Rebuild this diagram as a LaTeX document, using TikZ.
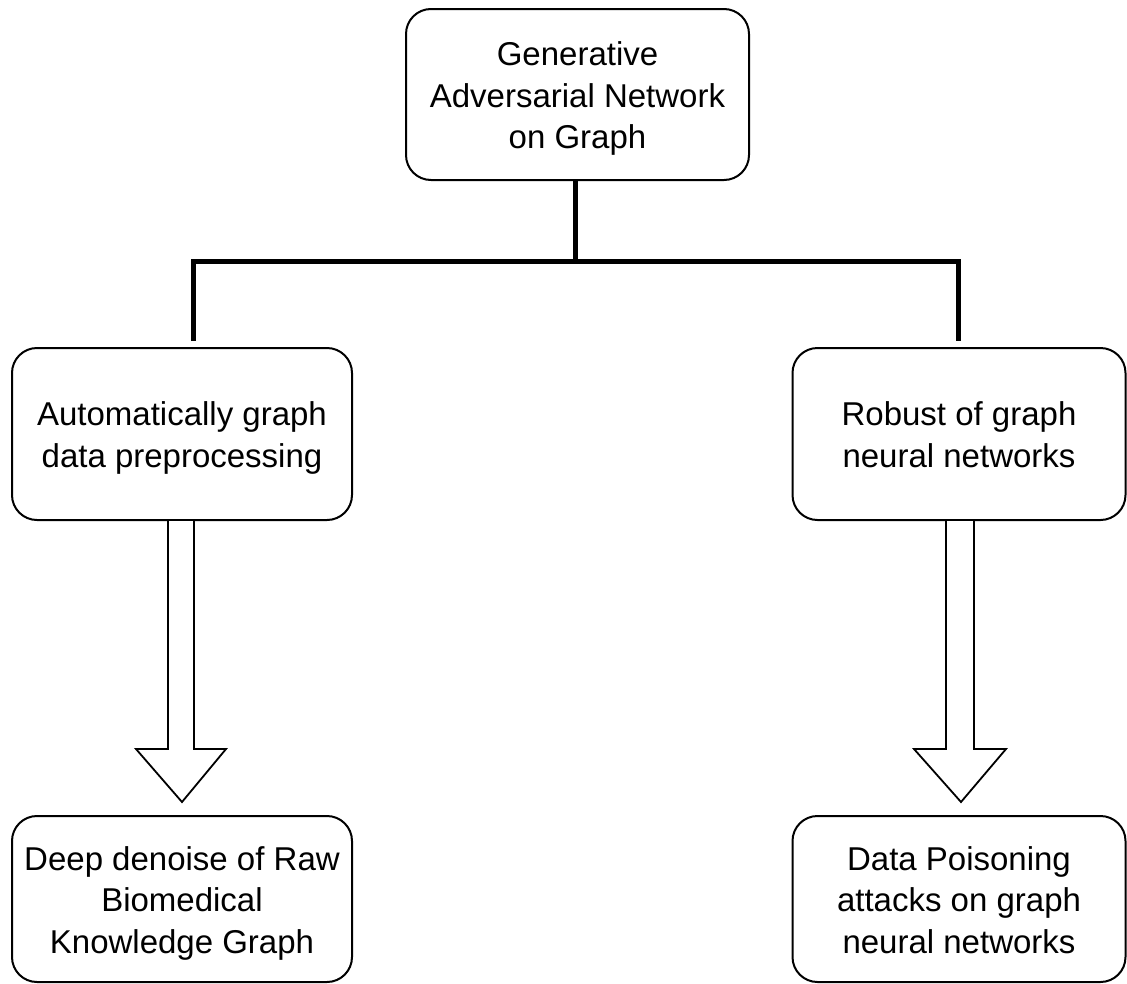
\documentclass[tikz,border=0pt]{standalone}
\usepackage{fontspec}
\setmainfont{Liberation Sans}
\usetikzlibrary{calc}
% fixed top and bottom struts so every label sits at the same spot in its box
\newcommand{\topstrut}{\rule{0pt}{35pt}}
\newcommand{\botstrut}{\rule[-10pt]{0pt}{10pt}}
\begin{document}
\begin{tikzpicture}[x=1pt,y=-1pt,
  box/.style={draw=black,line width=2pt,rounded corners=25pt,fill=white,
    align=center,inner sep=4pt,font=\fontsize{33}{41.5}\selectfont},
  conn/.style={draw=black,line width=5pt,line join=miter},
  blockarrow/.style={draw=black,line width=1.8pt,fill=white,line join=miter}]
\useasboundingbox (0,0) rectangle (1127,983);

% boxes
\node[box,minimum width=343pt,minimum height=171pt] (gan) at (577.5,94.5)
  {\topstrut Generative\\Adversarial Network\\on Graph\botstrut};
\node[box,minimum width=340pt,minimum height=172pt] (auto) at (182,434)
  {\topstrut Automatically graph\\data preprocessing\botstrut};
\node[box,minimum width=333pt,minimum height=172pt] (robust) at (959,434)
  {\topstrut Robust of graph\\neural networks\botstrut};
\node[box,minimum width=340pt,minimum height=166pt] (denoise) at (182,899)
  {\topstrut Deep denoise of Raw\\Biomedical\\Knowledge Graph\botstrut};
\node[box,minimum width=333pt,minimum height=166pt] (poison) at (959,899)
  {\topstrut Data Poisoning\\attacks on graph\\neural networks\botstrut};

% tree connectors
\coordinate (bus) at (575,261);
\coordinate (lj) at ($(auto.north)+(11,-6)$);
\coordinate (rj) at ($(robust.north)+(-1,-6)$);
\draw[conn] (gan.south -| bus) -- (bus);
\draw[conn] (lj) |- (bus) -| (rj);

% hollow block arrows
\draw[blockarrow] ($(auto.south)+(-14,0)$) -- ($(auto.south)+(-14,228)$)
  -- ($(auto.south)+(-46,228)$) -- ($(denoise.north)+(0,-13)$)
  -- ($(auto.south)+(44,228)$) -- ($(auto.south)+(12,228)$)
  -- ($(auto.south)+(12,0)$);
\draw[blockarrow] ($(robust.south)+(-13,0)$) -- ($(robust.south)+(-13,228)$)
  -- ($(robust.south)+(-45,228)$) -- ($(poison.north)+(2,-13)$)
  -- ($(robust.south)+(47,228)$) -- ($(robust.south)+(15,228)$)
  -- ($(robust.south)+(15,0)$);
\end{tikzpicture}
\end{document}
